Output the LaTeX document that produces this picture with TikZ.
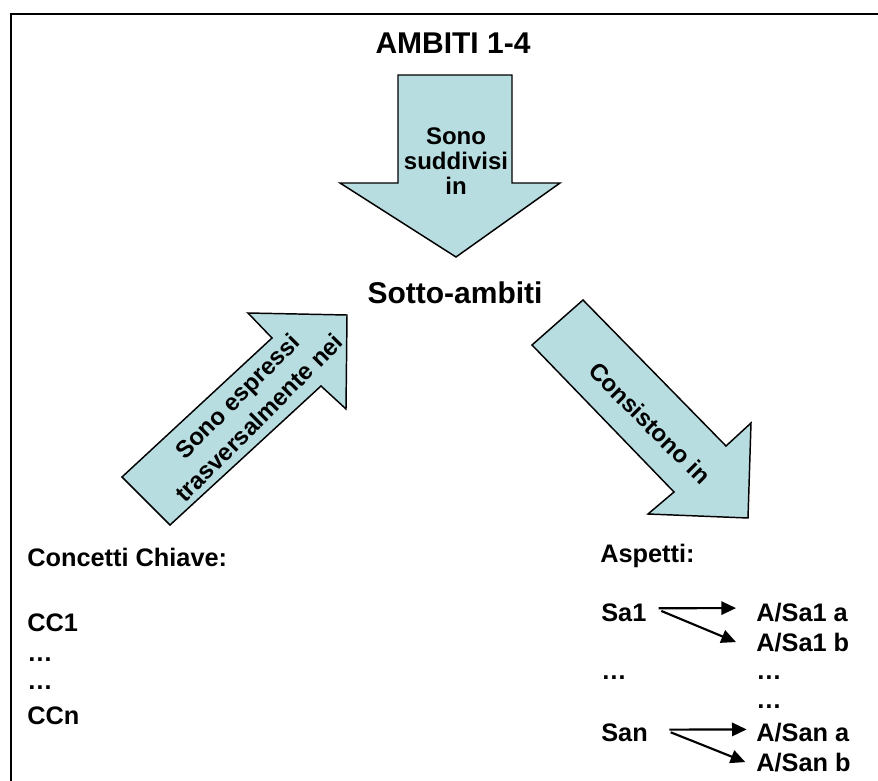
\documentclass[tikz,border=0pt]{standalone}
\usepackage{fontspec}
\setmainfont{Liberation Sans}
\usetikzlibrary{arrows.meta}
\definecolor{arrowfill}{RGB}{184,221,225}
\begin{document}
\begin{tikzpicture}[x=0.75pt,y=-0.75pt,
  blockarrow/.style={draw=black,line width=1.1pt,fill=arrowfill,line join=miter},
  frameline/.style={line width=2pt},
  bigtxt/.style={font=\fontsize{22.5}{27}\selectfont\bfseries,inner sep=0pt},
  txt/.style={font=\fontsize{19}{22}\selectfont\bfseries,inner sep=0pt,anchor=base west},
  intxt/.style={font=\fontsize{18}{19}\selectfont\bfseries,align=center,inner sep=0pt},
  diagtxt/.style={font=\fontsize{18}{23}\selectfont\bfseries,align=center,inner sep=0pt},
  smallarrow/.style={line width=1.6pt,-{Triangle[length=11pt,width=10pt]}}]
\useasboundingbox (0,0) rectangle (878,781);
\draw[frameline] (11,783) -- (11,14) -- (880,14);
% titles
\node[bigtxt] (title) at (453,43) {AMBITI 1-4};
\node[bigtxt] (sotto) at (455,293) {Sotto-ambiti};
% down arrow
\draw[blockarrow] (398,75) -- (512,75) -- (512,183) -- (560,183) -- (456,257) -- (340,183) -- (398,183) -- cycle;
\node[intxt] (t1) at (456,161) {Sono\\suddivisi\\in};
% left diagonal arrow
\draw[blockarrow] (122,477) -- (272,338) -- (248,313) -- (347,315) -- (346,409) -- (321,386) -- (170,525) -- cycle;
\node[diagtxt,rotate=45] (t2) at (248,407) {Sono espressi\\trasversalmente nei};
% right diagonal arrow
\draw[blockarrow] (532,345) -- (583,300) -- (726,446) -- (751,423) -- (748,518) -- (648,514) -- (674,492) -- cycle;
\node[diagtxt,rotate=-45] (t3) at (650,423) {Consistono in};
% left column
\node[txt] (cc) at (27,566) {Concetti Chiave:};
\node[txt] (cc1) at (27,631) {CC1};
\node[txt] (ccd1) at (27,661) {…};
\node[txt] (ccd2) at (27,689) {…};
\node[txt] (ccn) at (27,724) {CCn};
% right column
\node[txt] (asp) at (600,562) {Aspetti:};
\node[txt] (sa1) at (601,621) {Sa1};
\node[txt] (a1a) at (756,621) {A/Sa1 a};
\node[txt] (a1b) at (756,651) {A/Sa1 b};
\node[txt] (sad) at (601,679) {…};
\node[txt] (ad1) at (756,679) {…};
\node[txt] (ad2) at (756,708) {…};
\node[txt] (san) at (601,741) {San};
\node[txt] (ana) at (756,741) {A/San a};
\node[txt] (anb) at (756,771) {A/San b};
% small arrows
\draw[smallarrow] ([xshift=9pt,yshift=3pt]sa1.east) -- ([xshift=-15pt,yshift=3pt]a1a.west);
\draw[smallarrow] ([xshift=11pt,yshift=1pt]sa1.east) -- ([xshift=-15pt]a1b.west);
\draw[smallarrow] ([xshift=16pt,yshift=2pt]san.east) -- ([xshift=-7pt,yshift=2pt]ana.west);
\draw[smallarrow] ([xshift=17pt,yshift=0pt]san.east) -- ([xshift=-8pt]anb.west);
\end{tikzpicture}
\end{document}
